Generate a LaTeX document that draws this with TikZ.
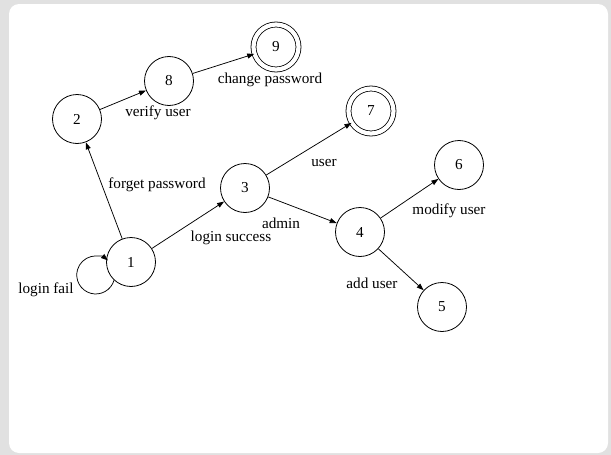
\documentclass[tikz,border=0pt]{standalone}
\usepackage{fontspec}
\setmainfont{Liberation Serif}
\usetikzlibrary{arrows.meta}
\definecolor{bggray}{HTML}{E1E1E1}
\begin{document}
\begin{tikzpicture}[x=1pt,y=1pt,
  every node/.style={font=\fontsize{15.2}{17}\selectfont},
  st/.style={circle, draw, line width=0.8pt, minimum size=49pt, inner sep=0pt},
  acc/.style={circle, draw, line width=0.8pt, double, double distance=4.2pt, minimum size=45pt, inner sep=0pt},
  arr/.style={line width=0.75pt, -{Triangle[length=7pt,width=5pt]}},
  lbl/.style={inner sep=0pt, anchor=center}]
\useasboundingbox (0,0) rectangle (611,-455);
\fill[bggray] (0,0) rectangle (611,-455);
\fill[white, rounded corners=10pt] (9,-4) rectangle (608,-453);

\node[st] (n1) at (131,-262) {1};
\node[st] (n2) at (77,-119) {2};
\node[st] (n8) at (169,-81) {8};
\node[acc] (n9) at (276,-47) {9};
\node[st] (n3) at (245,-188) {3};
\node[acc] (n7) at (371,-111) {7};
\node[st] (n6) at (459,-165) {6};
\node[st] (n4) at (360,-232) {4};
\node[st] (n5) at (442,-307) {5};

\draw[arr] (n1) -- (n2);
\draw[arr] (n2) -- (n8);
\draw[arr] (n8) -- (n9);
\draw[arr] (n1) -- (n3);
\draw[arr] (n3) -- (n7);
\draw[arr] (n3) -- (n4);
\draw[arr] (n4) -- (n6);
\draw[arr] (n4) -- (n5);
\draw[arr] (n1.-133) arc[start angle=-16, end angle=-310, radius=19];

\node[lbl] (l1) at (46,-290) {login fail};
\node[lbl] (l2) at (157,-185) {forget password};
\node[lbl] (l3) at (158,-113) {verify user};
\node[lbl] (l4) at (270,-80) {change password};
\node[lbl] (l5) at (324,-163) {user};
\node[lbl] (l6) at (231,-238) {login success};
\node[lbl] (l7) at (281,-223) {admin};
\node[lbl] (l8) at (449,-211) {modify user};
\node[lbl] (l9) at (372,-283) {add user};
\end{tikzpicture}
\end{document}
